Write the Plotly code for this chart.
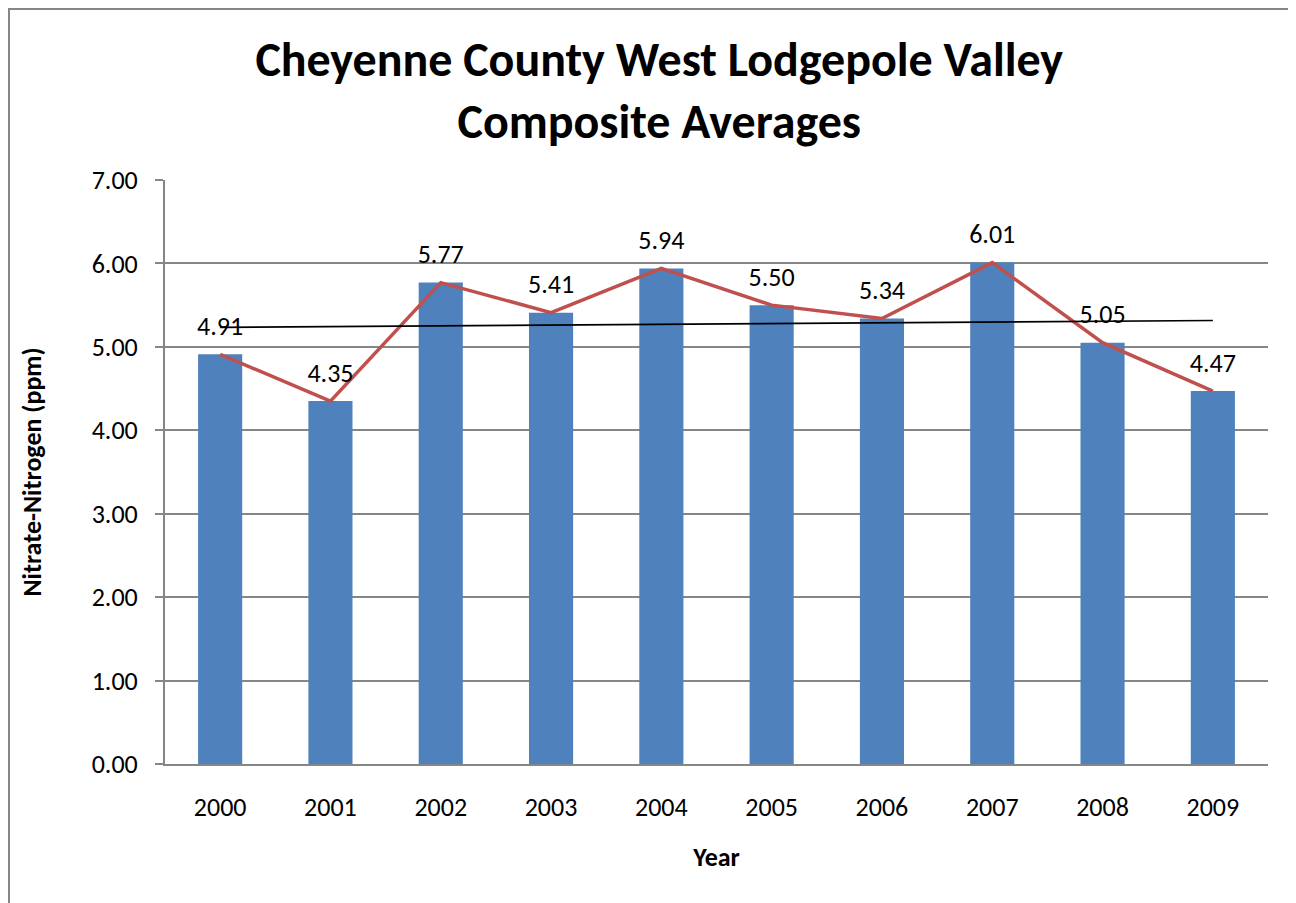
import numpy as np
import plotly.graph_objects as go

years = ["2000", "2001", "2002", "2003", "2004", "2005", "2006", "2007", "2008", "2009"]
values = [4.91, 4.35, 5.77, 5.41, 5.94, 5.50, 5.34, 6.01, 5.05, 4.47]
y_ticks = [0, 1, 2, 3, 4, 5, 6, 7]
y_tick_labels = ["0.00", "1.00", "2.00", "3.00", "4.00", "5.00", "6.00", "7.00"]

FONT = "Carlito, Calibri, Lato, sans-serif"
BLUE = "#4F81BD"
RED = "#C0504D"
GRID = "#868686"

# linear trend from the data
xi = np.arange(len(values))
slope, intercept = np.polyfit(xi, values, 1)
trend = [float(t) for t in (slope * xi + intercept)]

fig = go.Figure()
fig.add_trace(go.Bar(x=years, y=values, marker=dict(color=BLUE, line=dict(width=0)),
                     showlegend=False, hoverinfo="x+y"))
fig.add_trace(go.Scatter(x=years, y=values, mode="lines", line=dict(color=RED, width=3.5),
                         showlegend=False))
fig.add_trace(go.Scatter(x=years, y=trend, mode="lines", line=dict(color="black", width=1.7),
                         showlegend=False, hoverinfo="skip"))
# data labels
fig.add_trace(go.Scatter(x=years, y=values, mode="markers+text",
                         marker=dict(size=19, color="rgba(0,0,0,0)"),
                         text=[f"{v:.2f}" for v in values], textposition="top center",
                         textfont=dict(family=FONT, size=26, color="black"),
                         showlegend=False, hoverinfo="skip"))

PW = 1103.0
PH = 584.0
fig.add_shape(type="rect", xref="paper", yref="paper",
              x0=-157 / PW, x1=2, y0=-1, y1=1 + 172 / PH,
              line=dict(color=GRID, width=4), fillcolor="rgba(0,0,0,0)", layer="below")

fig.update_layout(
    width=1296, height=903,
    margin=dict(l=157, r=36, t=172, b=147),
    paper_bgcolor="white", plot_bgcolor="white",
    bargap=0.6,
    title=dict(text="<b>Cheyenne County West Lodgepole Valley<br>Composite Averages</b>",
               x=0.5025, xanchor="center", y=0.925, yanchor="middle",
               font=dict(family=FONT, size=48, color="black")),
    font=dict(family=FONT, color="black"),
    xaxis=dict(type="category", range=[-0.5, len(years) - 0.5],
               showline=True, linecolor=GRID, linewidth=2,
               ticks="", tickfont=dict(size=26), ticklabelstandoff=19,
               title=dict(text="<b>Year</b>", font=dict(size=26), standoff=26),
               showgrid=False, zeroline=False, automargin=False),
    yaxis=dict(range=[0, 7], tickvals=y_ticks, ticktext=y_tick_labels,
               showline=True, linecolor=GRID, linewidth=2,
               ticks="outside", ticklen=8, tickcolor=GRID, tickwidth=2,
               tickfont=dict(size=26), ticklabelstandoff=12,
               showgrid=True, gridcolor=GRID, gridwidth=1.5, zeroline=False,
               title=dict(text="<b>Nitrate-Nitrogen (ppm)</b>", font=dict(size=26), standoff=43),
               automargin=False),
)

fig.write_html("out.html")
